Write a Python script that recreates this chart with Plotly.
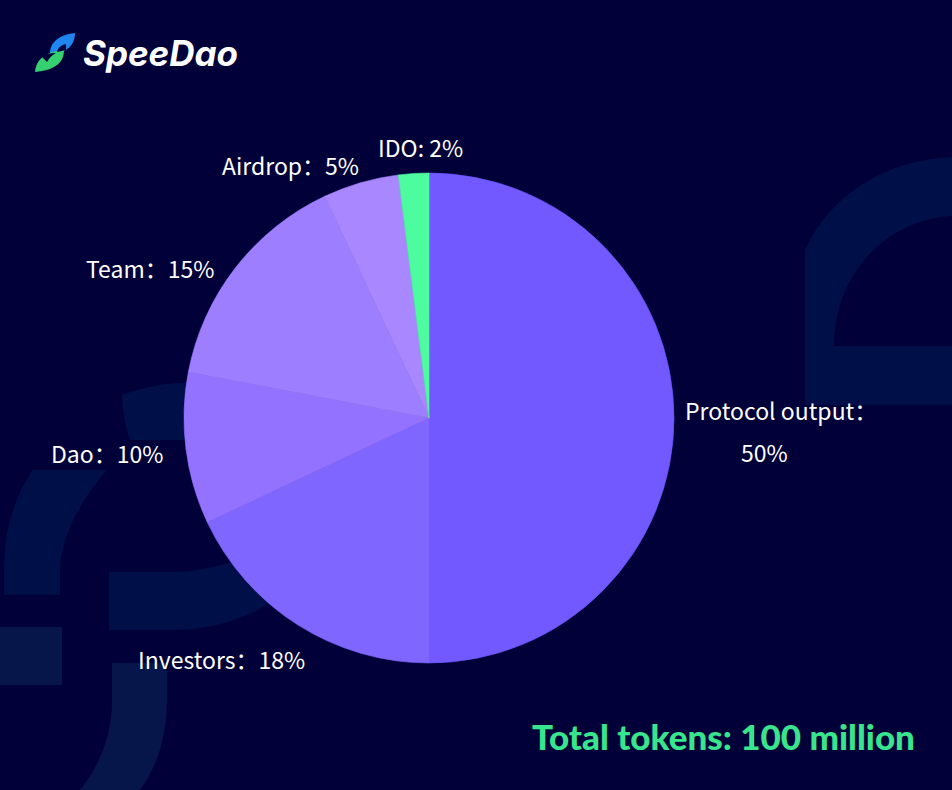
import plotly.graph_objects as go

W, H = 952, 790

# ---- data ----
labels = ["Protocol output", "Investors", "Dao", "Team", "Airdrop", "IDO"]
values = [50, 18, 10, 15, 5, 2]
colors = ["#7159FF", "#7F66FF", "#9372FF", "#9D7EFF", "#A987FF", "#4DFC9E"]
label_texts = ["Protocol output：", "Investors：18%", "Dao：10%",
               "Team：15%", "Airdrop：5%", "IDO: 2%"]
label_pos = [(781, 410), (221, 659), (107, 453), (150, 268), (290, 165), (420, 147)]
extra_text = "50%"
extra_pos = (764, 452)
total_text = "Total tokens: 100 million"
brand = "SpeeDao"

BG = "#010039"
DECOR = "#010F49"
DECOR2 = "#06154A"

def px(x):
    return x / W

def py(y):
    return 1 - y / H

fig = go.Figure()
cx, cy, r = 429, 418, 245
fig.add_trace(go.Pie(
    labels=labels, values=values, sort=False, direction="clockwise", rotation=0,
    marker=dict(colors=colors, line=dict(width=0.6, color=colors)),
    textinfo="none", hoverinfo="label+percent", showlegend=False,
    domain=dict(x=[px(cx - r), px(cx + r)], y=[py(cy + r), py(cy - r)]),
))

shapes = []
def path(d, color):
    shapes.append(dict(type="path", path=d, xref="paper", yref="paper",
                       fillcolor=color, line=dict(width=0), layer="below"))

def P(pts_cmds):
    out = []
    for tok in pts_cmds:
        if isinstance(tok, str):
            out.append(tok)
        else:
            out.append(f"{px(tok[0]):.5f},{py(tok[1]):.5f}")
    return " ".join(out)

# right arch decoration
path(P(["M", (805, 405), "L", (805, 250), "C", (830, 195), (885, 160), (952, 157),
        "L", (952, 216), "C", (885, 220), (834, 275), (834, 346), "L", (952, 346),
        "L", (952, 405), "Z"]), DECOR)
# left arc behind pie (top)
path(P(["M", (122, 395), "C", (150, 385), (175, 382), (200, 382), "L", (200, 440),
        "L", (130, 440), "C", (125, 425), (122, 410), (122, 395), "Z"]), DECOR)
# big left C arc
path(P(["M", (4, 595), "L", (4, 570), "C", (4, 530), (15, 495), (33, 470),
        "L", (107, 470), "C", (80, 500), (60, 540), (60, 570), "L", (60, 595), "Z"]), DECOR)
# horizontal bar
path(P(["M", (109, 572), "L", (170, 572), "C", (200, 572), (225, 565), (250, 555),
        "L", (275, 600), "C", (245, 620), (210, 630), (170, 630), "L", (109, 630), "Z"]), DECOR)
# lower-left square
path(P(["M", (0, 627), "L", (62, 627), "L", (62, 685), "L", (0, 685), "Z"]), DECOR2)
# bottom arc
path(P(["M", (112, 663), "L", (167, 663), "L", (167, 700), "C", (167, 740), (155, 770), (140, 790),
        "L", (80, 790), "C", (100, 765), (112, 735), (112, 700), "Z"]), DECOR2)

# logo icon: two leaves
path(P(["M", (50, 55), "C", (49, 44), (57, 35), (75, 33), "C", (75, 45), (67, 53), (50, 55), "Z"]), "#1F86F0")
path(P(["M", (35, 72), "C", (36, 60), (44, 52), (64, 50), "C", (64, 62), (56, 70), (35, 72), "Z"]), "#35D06F")
# notches forming the S gap
path(P(["M", (57, 52), "C", (58, 48), (61, 45), (66, 44), "L", (66, 50), "Z"]), BG)
path(P(["M", (42, 57), "C", (46, 54), (50, 53), (56, 53), "C", (52, 55), (49, 58), (47, 62), "Z"]), BG)

annotations = []
for t, (x, y) in zip(label_texts, label_pos):
    annotations.append(dict(text=t, x=px(x), y=py(y), xref="paper", yref="paper",
                            xanchor="center", yanchor="middle", showarrow=False,
                            font=dict(family="Noto Sans CJK SC", size=23, color="white")))
annotations.append(dict(text=extra_text, x=px(extra_pos[0]), y=py(extra_pos[1]), xref="paper", yref="paper",
                        xanchor="center", yanchor="middle", showarrow=False,
                        font=dict(family="Noto Sans CJK SC", size=23, color="white")))
annotations.append(dict(text=total_text, x=px(917), y=py(736), xref="paper", yref="paper",
                        xanchor="right", yanchor="middle", showarrow=False,
                        font=dict(family="Lato", size=35, color="#38E58D", weight=900)))
annotations.append(dict(text=f"<i><b>{brand}</b></i>", x=px(81), y=py(53), xref="paper", yref="paper",
                        xanchor="left", yanchor="middle", showarrow=False,
                        font=dict(family="Inter", size=35, color="white")))

fig.update_layout(
    width=W, height=H, margin=dict(l=0, r=0, t=0, b=0),
    paper_bgcolor=BG, plot_bgcolor=BG,
    shapes=shapes, annotations=annotations,
)

fig.write_html("out.html", config={"displayModeBar": False})
